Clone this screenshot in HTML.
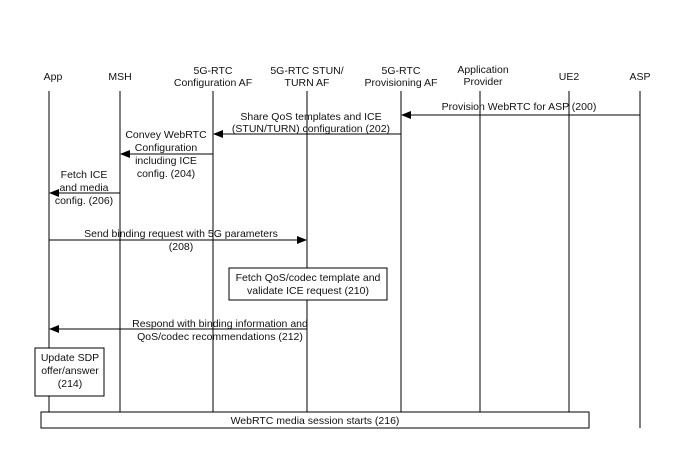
<!DOCTYPE html>
<html><head><style>
body{margin:0;background:#fff;}
svg text{font-family:"Liberation Sans",Arial,sans-serif;font-size:10.5px;fill:#111;text-anchor:middle;}
</style></head><body>
<svg width="679" height="468" viewBox="0 0 679 468" xmlns="http://www.w3.org/2000/svg">
<defs><marker id="a" markerWidth="10" markerHeight="8" refX="9" refY="4" orient="auto" markerUnits="userSpaceOnUse"><path d="M0,0 L10,4 L0,8 z" fill="#000"/></marker></defs>
<text x="53" y="80">App</text>
<text x="120" y="80">MSH</text>
<text x="213" y="74">5G-RTC</text><text x="213" y="86">Configuration AF</text>
<text x="307" y="74">5G-RTC STUN/</text><text x="307" y="86">TURN AF</text>
<text x="401" y="74">5G-RTC</text><text x="401" y="86">Provisioning AF</text>
<text x="483" y="73">Application</text><text x="483" y="85">Provider</text>
<text x="569" y="80">UE2</text>
<text x="640" y="80">ASP</text>
<g stroke="#000" stroke-width="1">
<line x1="49" y1="91" x2="49" y2="428"/><line x1="120" y1="91" x2="120" y2="428"/>
<line x1="213" y1="91" x2="213" y2="428"/><line x1="307" y1="91" x2="307" y2="428"/>
<line x1="401" y1="91" x2="401" y2="428"/><line x1="480" y1="91" x2="480" y2="428"/>
<line x1="569" y1="91" x2="569" y2="428"/><line x1="640" y1="91" x2="640" y2="428"/>
<line x1="640" y1="115" x2="402" y2="115" marker-end="url(#a)"/>
<line x1="401" y1="134" x2="214" y2="134" marker-end="url(#a)"/>
<line x1="213" y1="154" x2="121" y2="154" marker-end="url(#a)"/>
<line x1="120" y1="193" x2="50" y2="193" marker-end="url(#a)"/>
<line x1="49" y1="240" x2="306" y2="240" marker-end="url(#a)"/>
<line x1="307" y1="329" x2="50" y2="329" marker-end="url(#a)"/>
<rect x="229" y="268" width="158" height="32" fill="#fff"/>
<rect x="35" y="348" width="69" height="48" fill="#fff"/>
<rect x="41" y="412" width="548" height="16" fill="#fff"/>
</g>
<text x="519" y="110">Provision WebRTC for ASP (200)</text>
<text x="311" y="120">Share QoS templates and ICE</text><text x="311" y="132">(STUN/TURN) configuration (202)</text>
<text x="166" y="138">Convey WebRTC</text><text x="166" y="151">Configuration</text><text x="166" y="164">including ICE</text><text x="166" y="177">config. (204)</text>
<text x="84" y="178">Fetch ICE</text><text x="84" y="191">and media</text><text x="84" y="204">config. (206)</text>
<text x="181" y="237">Send binding request with 5G parameters</text><text x="181" y="250">(208)</text>
<text x="308" y="281">Fetch QoS/codec template and</text><text x="308" y="294">validate ICE request (210)</text>
<text x="220" y="327">Respond with binding information and</text><text x="220" y="340">QoS/codec recommendations (212)</text>
<text x="70" y="361">Update SDP</text><text x="70" y="374">offer/answer</text><text x="70" y="387">(214)</text>
<text x="315" y="424">WebRTC media session starts (216)</text>
</svg>
</body></html>
